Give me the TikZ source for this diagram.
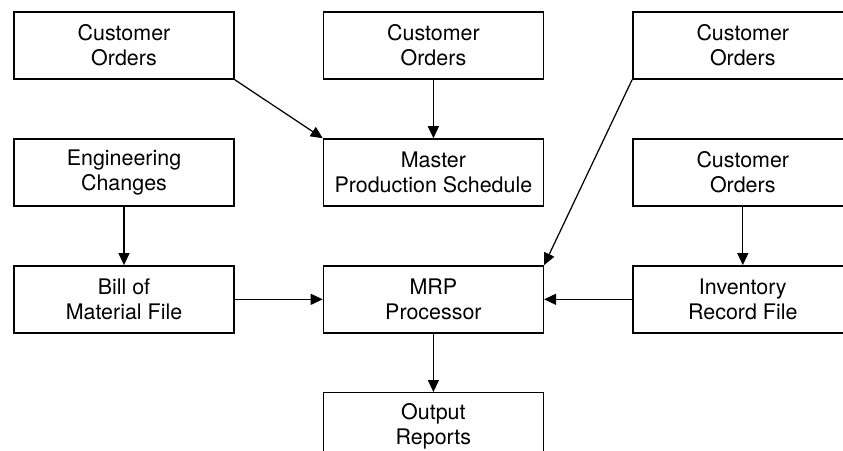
\documentclass[tikz,border=0pt]{standalone}
\usepackage{fontspec}
\setmainfont{TeX Gyre Heros}
\usetikzlibrary{arrows.meta, positioning}

\begin{document}
\begin{tikzpicture}[
		node distance=1.17cm and 1.76cm,
		block/.style={rectangle, draw, line width=0.8pt, inner sep=0pt,
			minimum width=4.4cm, minimum height=1.34cm, align=center,
			font=\fontsize{12.2}{14.2}\selectfont},
		arrow/.style={-{Triangle[length=2.4mm, width=2.2mm]}, line width=0.7pt}
		]
		
		\useasboundingbox (-2.48,-8.09) rectangle (14.38,0.91);
		
		% Nodes
		\node[block] (orders1) {Customer\\Orders};
		\node[block, right=of orders1] (orders2) {Customer\\Orders};
		\node[block, right=of orders2] (orders3) {Customer\\Orders};
		\node[block, below=of orders1] (eng) {Engineering\\Changes};
		\node[block, below=of orders2] (mps) {Master\\Production Schedule};
		\node[block, below=of orders3] (orders4) {Customer\\Orders};
		\node[block, below=of eng] (bom) {Bill of\\Material File};
		\node[block, below=of mps] (mrp) {MRP\\Processor};
		\node[block, below=of orders4] (inv) {Inventory\\Record File};
		\node[block, below=of mrp] (output) {Output\\Reports};
		
		% Arrows
		\draw[arrow] (orders1.south east) -- (mps.north west);
		\draw[arrow] (orders2) -- (mps);
		\draw[arrow] (orders3.south west) -- (mrp.north east);
		\draw[arrow] (eng) -- (bom);
		\draw[arrow] (orders4) -- (inv);
		\draw[arrow] (bom) -- (mrp);
		\draw[arrow] (inv) -- (mrp);
		\draw[arrow] (mrp) -- (output);
		
	\end{tikzpicture}
\end{document}
